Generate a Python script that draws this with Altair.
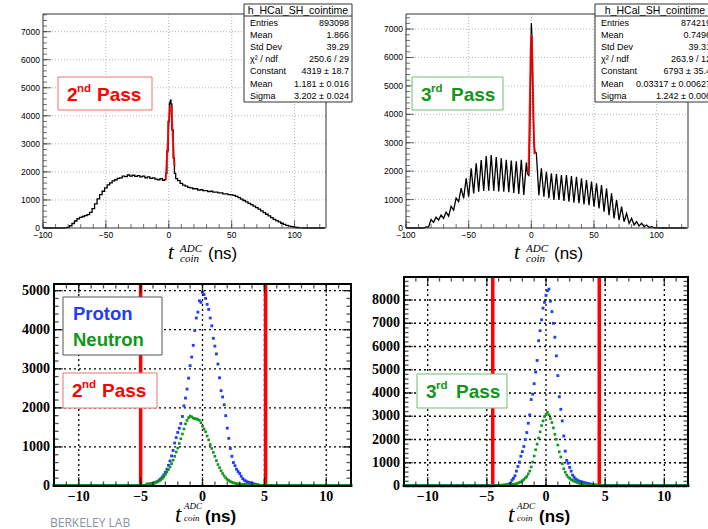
import altair as alt
import pandas as pd

FONT = "Liberation Sans"
NARROW = "Liberation Sans Narrow"
SERIF = "Liberation Serif"
RED = "#ff0000"
GREEN = "#10961a"
BLUE = "#1e3cff"

# ---------------- HCal - SH coincidence time, 2nd pass ----------------
# counts in 2 ns bins for t = -100 .. -4
P2_LO_COUNTS = [0, 0, 0, 0, 0, 0, 0, 0, 0,
                5, 25, 80, 160, 250, 330, 380, 410, 440, 480, 560, 690, 860,
                1040, 1190, 1310, 1430, 1540, 1610, 1680, 1720, 1770, 1790,
                1850, 1830, 1890, 1850, 1880, 1840, 1870, 1820, 1850, 1790,
                1820, 1770, 1790, 1740, 1720, 1760, 1700]
# coincidence peak, finer sampling
P2_PEAK_T = [-3, -2, -1, 0, 1, 1.5, 2, 3, 4, 5, 6]
P2_PEAK_COUNTS = [1720, 1950, 2750, 3800, 4450, 4560, 4420, 3500, 2500, 1950, 1760]
# counts in 2 ns bins for t = 8 .. 124
P2_HI_COUNTS = [1690, 1590, 1530, 1490, 1450, 1430, 1400, 1400, 1350, 1370,
                1330, 1330, 1300, 1310, 1280, 1280, 1250, 1250, 1220, 1220,
                1190, 1180, 1160, 1130, 1080, 1030, 980, 930, 880, 830,
                780, 730, 670, 610, 550, 490, 430, 370, 310, 260,
                215, 170, 130, 95, 70, 50, 30, 18, 8, 3,
                0, 0, 0, 0, 0, 0, 0, 0, 0]
# gaussian fit curve over the peak
P2_FIT_T = [-2.5, -2, -1, 0, 1, 1.5, 2, 3, 4, 4.5]
P2_FIT_COUNTS = [1720, 2050, 2850, 3750, 4300, 4350, 4250, 3450, 2550, 2200]

# ---------------- HCal - SH coincidence time, 3rd pass ----------------
# beam-bunch maxima (t = -100 .. -4, every 4 ns) and minima (t = -98 .. -6)
P3_BUNCH_LO = [0, 0, 0, 0, 40, 300, 380, 460, 560, 760, 1050, 1400, 1750,
               2100, 2280, 2390, 2530, 2570, 2500, 2450, 2400, 2370, 2350,
               2400, 2300]
P3_GAP_LO = [0, 0, 0, 0, 30, 200, 280, 340, 420, 630, 930, 1045, 1100,
             1220, 1280, 1300, 1310, 1300, 1290, 1280, 1260, 1230, 1200, 1160]
# central coincidence peak
P3_CORE_T = [-3, -2, -1.5, -1, -0.5, 0, 0.5, 1, 1.5, 2, 3]
P3_CORE_COUNTS = [1900, 1850, 2600, 3900, 5800, 7200, 6700, 5000, 4200, 3000, 2650]
# beam-bunch maxima (t = 4 .. 124) and minima (t = 6 .. 122)
P3_BUNCH_HI = [2640, 2100, 1980, 1920, 1900, 1865, 1860, 1830, 1800, 1750,
               1690, 1630, 1570, 1510, 1395, 1220, 985, 750, 515, 340,
               220, 165, 105, 45, 10, 0, 0, 0, 0, 0, 0]
P3_GAP_HI = [1150, 1100, 1045, 985, 985, 950, 925, 890, 870, 830,
             800, 750, 690, 575, 455, 340, 280, 220, 165, 105,
             70, 45, 20, 5, 0, 0, 0, 0, 0, 0]
P3_FIT_T = [-2.5, -2, -1.5, -1, -0.5, 0, 0.5, 1, 1.5, 2, 2.5]
P3_FIT_COUNTS = [1900, 2500, 3700, 5000, 6200, 6800, 6500, 5600, 4400, 3300, 2600]

# ---------------- selected proton / neutron events ----------------
# 0.125 ns bins from t = -4.5 to 4.5
SEL_T0, SEL_DT = -4.5, 0.125
P2_PROTON = [25, 30, 40, 50, 65, 80, 100, 120, 150, 185, 230, 285, 350, 430,
             530, 640, 770, 910, 1100, 1240, 1370, 1480, 1600, 1780, 2050,
             2250, 2480, 2760, 3080, 3300, 3600, 3980, 4300, 4450, 4740, 4700,
             4960, 4900, 4800, 4650, 4520, 4300, 4100, 3780, 3580, 3380, 3120,
             2770, 2440, 2280, 2080, 1800, 1480, 1220, 960, 760, 600, 520, 430,
             370, 320, 250, 190, 150, 125, 105, 90, 80, 70, 55, 45, 35, 28]
P2_NEUTRON = [50, 55, 60, 65, 75, 85, 95, 110, 130, 160, 190, 235, 295, 360,
              420, 490, 570, 660, 760, 870, 970, 1090, 1210, 1330, 1460, 1590,
              1680, 1750, 1790, 1770, 1740, 1720, 1720, 1700, 1680, 1620, 1530,
              1460, 1390, 1280, 1180, 1060, 960, 860, 760, 650, 550, 470, 390,
              320, 260, 210, 170, 140, 115, 95, 80, 70, 60, 55, 50, 45, 42, 40,
              38, 36, 34, 32, 30, 28, 27, 26, 25]
P3_PROTON = [15, 15, 20, 20, 25, 25, 30, 35, 40, 50, 60, 80, 120, 250, 330,
             440, 640, 840, 1030, 1280, 1480, 1700, 2000, 2300, 2700, 3060,
             3720, 3950, 4400, 4900, 5400, 6250, 6680, 7150, 7650, 7900, 8200,
             8400, 8470, 7950, 7500, 7000, 6400, 5600, 4750, 3840, 3300, 2800,
             2150, 1500, 1100, 980, 800, 640, 470, 380, 300, 260, 220, 195,
             175, 160, 140, 125, 110, 95, 80, 65, 55, 45, 35, 30, 25]
P3_NEUTRON = [10, 12, 14, 16, 18, 20, 22, 24, 26, 30, 35, 40, 50, 60, 70, 80,
              100, 125, 150, 180, 230, 280, 340, 410, 520, 640, 820, 1030,
              1290, 1560, 1800, 2060, 2330, 2600, 2800, 2990, 3080, 3170, 3060,
              2900, 2730, 2500, 2220, 2010, 1760, 1470, 1250, 960, 740, 590,
              470, 390, 330, 280, 240, 210, 180, 155, 130, 110, 95, 80, 65, 55,
              45, 40, 35, 30, 25, 22, 20, 18, 15]
# flat background far from the peak (0.125 ns bins)
TAIL = [12, 10, 14, 11, 9, 13, 12, 10, 11, 15, 9, 12, 14, 10, 11, 13, 12, 9,
        10, 14, 12, 11, 13, 10, 12, 9, 11, 14, 12, 10, 13, 11, 12, 10, 9, 14,
        11, 12, 13, 10, 12, 11, 9, 13, 12, 10, 14, 11, 12, 10, 13, 12, 11, 9,
        14, 12, 10, 11, 13, 12]
P2_CUTS = [-5.0, 5.1]
P3_CUTS = [-4.5, 4.5]

ONE = pd.DataFrame({"k": [0]})


def minus(v):
    s = f"{v:g}"
    return s.replace("-", "\u2212")


# ---------------- data tables ----------------
p2_t = list(range(-100, -3, 2)) + P2_PEAK_T + list(range(8, 125, 2))
p2_n = P2_LO_COUNTS + P2_PEAK_COUNTS + P2_HI_COUNTS
p2_hist = pd.DataFrame({"t": p2_t[:len(p2_n)], "n": p2_n[:len(p2_t)]})
p2_fit = pd.DataFrame({"t": P2_FIT_T, "n": P2_FIT_COUNTS})

p3_pts = []
p3_pts += list(zip(range(-100, -3, 4), P3_BUNCH_LO))
p3_pts += list(zip(range(-98, -5, 4), P3_GAP_LO))
p3_pts += list(zip(P3_CORE_T, P3_CORE_COUNTS))
p3_pts += list(zip(range(4, 125, 4), P3_BUNCH_HI))
p3_pts += list(zip(range(6, 123, 4), P3_GAP_HI))
p3_hist = pd.DataFrame(sorted(p3_pts), columns=["t", "n"])
p3_fit = pd.DataFrame({"t": P3_FIT_T, "n": P3_FIT_COUNTS})


def selection_table(core):
    t = [-12 + SEL_DT * i for i in range(len(TAIL))]
    n = list(reversed(TAIL))
    t += [SEL_T0 + SEL_DT * i for i in range(len(core))]
    n += core
    t += [4.625 + SEL_DT * i for i in range(len(TAIL))]
    n += TAIL
    return pd.DataFrame({"t": t, "n": n})


# ---------------- panel frame, grid, ticks, labels ----------------
def frame_layers(xs, ys, xdom, ydom, xmaj, xmin_, ymaj, ymin_, st):
    X = lambda f: alt.X(f, type="quantitative", scale=xs, axis=None)
    Y = lambda f: alt.Y(f, type="quantitative", scale=ys, axis=None)
    x0, x1 = xdom
    y0, y1 = ydom
    out = []
    gx = pd.DataFrame({"v": [v for v in xmaj if x0 < v < x1]})
    gx["a"], gx["b"] = y0, y1
    gy = pd.DataFrame({"v": [v for v in ymaj if y0 < v < y1]})
    gy["a"], gy["b"] = x0, x1
    out.append(alt.Chart(gx).mark_rule(color=st["grid"], strokeDash=st["dash"],
                                       strokeWidth=st["gw"]).encode(
        x=X("v"), y=Y("a"), y2="b"))
    out.append(alt.Chart(gy).mark_rule(color=st["grid"], strokeDash=st["dash"],
                                       strokeWidth=st["gw"]).encode(
        y=Y("v"), x=X("a"), x2="b"))
    return out


def axis_layers(xs, ys, xdom, ydom, xmaj, xmin_, ymaj, ymin_, st):
    X = lambda f: alt.X(f, type="quantitative", scale=xs, axis=None)
    Y = lambda f: alt.Y(f, type="quantitative", scale=ys, axis=None)
    x0, x1 = xdom
    y0, y1 = ydom
    out = []
    box = pd.DataFrame({"a": [x0], "b": [x1], "c": [y0], "d": [y1]})
    out.append(alt.Chart(box).mark_rect(fillOpacity=0, stroke=st["frame"],
                                        strokeWidth=st["fw"]).encode(
        x=X("a"), x2="b", y=Y("c"), y2="d"))
    sides = st["sides"]
    for vals, ln in ((xmaj, st["tl"]), (xmin_, st["tl"] / 2)):
        d = pd.DataFrame({"v": vals})
        d["lo"], d["hi"] = y0, y1
        out.append(alt.Chart(d).mark_tick(orient="vertical", size=ln, thickness=st["tw"],
                                          yOffset=-ln / 2, color=st["frame"]).encode(
            x=X("v"), y=Y("lo")))
        if "top" in sides:
            out.append(alt.Chart(d).mark_tick(orient="vertical", size=ln, thickness=st["tw"],
                                              yOffset=ln / 2, color=st["frame"]).encode(
                x=X("v"), y=Y("hi")))
    for vals, ln in ((ymaj, st["tl"]), (ymin_, st["tl"] / 2)):
        d = pd.DataFrame({"v": vals})
        d["lo"], d["hi"] = x0, x1
        out.append(alt.Chart(d).mark_tick(orient="horizontal", size=ln, thickness=st["tw"],
                                          xOffset=ln / 2, color=st["frame"]).encode(
            y=Y("v"), x=X("lo")))
        if "right" in sides:
            out.append(alt.Chart(d).mark_tick(orient="horizontal", size=ln, thickness=st["tw"],
                                              xOffset=-ln / 2, color=st["frame"]).encode(
                y=Y("v"), x=X("hi")))
    lx = pd.DataFrame({"v": xmaj, "s": [minus(v) for v in xmaj]})
    lx["p"] = y0
    out.append(alt.Chart(lx).mark_text(baseline="top", dy=st["ldy"], font=st["lfont"],
                                       fontSize=st["lsize"], fontWeight=st["lweight"],
                                       color="black").encode(
        x=X("v"), y=Y("p"), text="s:N"))
    ly = pd.DataFrame({"v": ymaj, "s": [minus(v) for v in ymaj]})
    ly["p"] = x0
    out.append(alt.Chart(ly).mark_text(align="right", baseline="middle", dx=-st["ldx"],
                                       font=st["lfont"], fontSize=st["lsize"],
                                       fontWeight=st["lweight"], color="black").encode(
        y=Y("v"), x=X("p"), text="s:N"))
    return out


TOP_STYLE = dict(grid="#b4b4b4", dash=[1, 2], gw=1, frame="#333333", fw=1, tw=1,
                 tl=8, sides=(), ldy=3, ldx=3, lfont=FONT, lsize=8.5, lweight="normal")
BOT_STYLE = dict(grid="#000000", dash=[2, 3], gw=1.3, frame="#000000", fw=2, tw=1.3,
                 tl=9, sides=("top", "right"), ldy=4, ldx=4, lfont=NARROW, lsize=14,
                 lweight="bold")


def hist_panel(xdom, xr, ydom, yr, hist, fit, interp, width, yticks):
    xs = alt.Scale(domain=xdom, range=xr, nice=False, zero=False)
    ys = alt.Scale(domain=ydom, range=yr, nice=False, zero=False)
    xmaj = [-100, -50, 0, 50, 100]
    xmin_ = list(range(-100, 125, 10))
    ymaj = yticks
    ymin_ = list(range(0, int(ydom[1]) + 1, 200))
    X = alt.X("t:Q", scale=xs, axis=None)
    Y = alt.Y("n:Q", scale=ys, axis=None)
    layers = frame_layers(xs, ys, xdom, ydom, xmaj, xmin_, ymaj, ymin_, TOP_STYLE)
    layers.append(alt.Chart(hist).mark_line(color="black", strokeWidth=width,
                                            interpolate=interp).encode(x=X, y=Y))
    layers.append(alt.Chart(fit).mark_line(color=RED, strokeWidth=2, opacity=0.85,
                                           interpolate="monotone").encode(x=X, y=Y))
    layers += axis_layers(xs, ys, xdom, ydom, xmaj, xmin_, ymaj, ymin_, TOP_STYLE)
    return alt.layer(*layers)


def selection_panel(xr, ydom, yr, proton, neutron, cuts, yticks):
    xdom = [-12, 12]
    xs = alt.Scale(domain=xdom, range=xr, nice=False, zero=False)
    ys = alt.Scale(domain=ydom, range=yr, nice=False, zero=False)
    xmaj = [-10, -5, 0, 5, 10]
    xmin_ = list(range(-12, 13))
    ymin_ = list(range(0, int(ydom[1]) + 1, 200))
    X = alt.X("t:Q", scale=xs, axis=None)
    Y = alt.Y("n:Q", scale=ys, axis=None)
    layers = frame_layers(xs, ys, xdom, ydom, xmaj, xmin_, yticks, ymin_, BOT_STYLE)
    cut_df = pd.DataFrame({"t": cuts})
    cut_df["a"], cut_df["b"] = ydom
    layers.append(alt.Chart(cut_df).mark_rule(color=RED, strokeWidth=3.5).encode(
        x=X, y=alt.Y("a:Q", scale=ys, axis=None), y2="b"))
    layers.append(alt.Chart(proton).mark_square(size=8, color=BLUE, opacity=1).encode(x=X, y=Y))
    layers.append(alt.Chart(neutron).mark_square(size=7, color=GREEN, opacity=1).encode(x=X, y=Y))
    layers += axis_layers(xs, ys, xdom, ydom, xmaj, xmin_, yticks, ymin_, BOT_STYLE)
    return alt.layer(*layers)


top_left = hist_panel([-100, 125], [43, 326], [0, 7630], [228, 14], p2_hist, p2_fit,
                      "step", 1.3, list(range(0, 7001, 1000)))
top_right = hist_panel([-100, 125], [406, 688], [0, 7530], [228, 14], p3_hist, p3_fit,
                       "linear", 1.3, list(range(0, 7001, 1000)))
bot_left = selection_panel([54, 351], [0, 5170], [486, 284], selection_table(P2_PROTON),
                           selection_table(P2_NEUTRON), P2_CUTS, list(range(0, 5001, 1000)))
bot_right = selection_panel([404, 688], [0, 8990], [486, 277], selection_table(P3_PROTON),
                            selection_table(P3_NEUTRON), P3_CUTS, list(range(0, 8001, 1000)))


# ---------------- text boxes ----------------
def rect(x, x2, y, y2, stroke, sw=1, fill="white"):
    return alt.Chart(ONE).mark_rect(fill=fill, stroke=stroke, strokeWidth=sw).encode(
        x=alt.value(x), x2=alt.value(x2), y=alt.value(y), y2=alt.value(y2))


def text(s, x, y, size, color="black", weight="normal", font=FONT, align="left",
         style="normal", baseline="alphabetic"):
    return alt.Chart(ONE).mark_text(align=align, baseline=baseline, font=font,
                                    fontSize=size, fontWeight=weight, fontStyle=style,
                                    color=color).encode(
        x=alt.value(x), y=alt.value(y), text=alt.value(s))


def line(x, x2, y, color):
    return alt.Chart(ONE).mark_rule(color=color, strokeWidth=1).encode(
        x=alt.value(x), x2=alt.value(x2), y=alt.value(y))


STAT_LABELS = ["Entries", "Mean", "Std Dev", "\u03c7\u00b2 / ndf", "Constant", "Mean", "Sigma"]
P2_STATS = ["893098", "1.866", "39.29", "250.6 / 29", "4319 \u00b1 18.7",
            "1.181 \u00b1 0.016", "3.202 \u00b1 0.024"]
P3_STATS = ["874219", "0.7496", "39.31", "263.9 / 12", "6793 \u00b1 35.4",
            "0.03317 \u00b1 0.00627", "1.242 \u00b1 0.006"]


def stats_box(x0, x1, xr, values):
    out = [rect(x0, x1, 4, 102, "#333333")]
    out.append(text("h_HCal_SH_cointime", (x0 + x1) / 2 if x1 < 708 else 655, 13.5, 10.5,
                    align="center"))
    out.append(line(x0, x1, 16, "#333333"))
    df = pd.DataFrame({"lab": STAT_LABELS, "val": values,
                       "y": [23 + 12.1 * i for i in range(len(values))]})
    out.append(alt.Chart(df).mark_text(align="left", baseline="middle", font=FONT,
                                       fontSize=9, color="black").encode(
        x=alt.value(x0 + 6), y=alt.Y("y:Q", scale=None), text="lab:N"))
    out.append(alt.Chart(df).mark_text(align="right", baseline="middle", font=FONT,
                                       fontSize=9, color="black").encode(
        x=alt.value(xr), y=alt.Y("y:Q", scale=None), text="val:N"))
    return out


def pass_box(x0, x1, y0, y1, num, sup, color, edge):
    base = y0 + 24
    return [rect(x0, x1, y0, y1, edge),
            text(num, x0 + 9, base, 19, color, "bold"),
            text(sup, x0 + 19, base - 9, 11.5, color, "bold"),
            text("Pass", x0 + 39, base, 19, color, "bold")]


def coin_title(x, y, big=21, small=11, ns_font=FONT, ns_size=17, ns_weight="normal",
               sub_dy=11, sup_dy=-7, gap=12, ns_gap=40):
    return [text("t", x, y, big, font=SERIF, style="italic"),
            text("ADC", x + gap, y + sup_dy, small, font=SERIF, style="italic"),
            text("coin", x + gap, y + sub_dy - 8, small, font=SERIF, style="italic"),
            text("(ns)", x + ns_gap, y, ns_size, font=ns_font, weight=ns_weight)]


overlays = []
overlays += stats_box(244, 352, 349, P2_STATS)
overlays += stats_box(595, 760, 711, P3_STATS)
overlays += pass_box(58, 152, 77, 110, "2", "nd", RED, "#f07070")
overlays += pass_box(412, 503, 77, 110, "3", "rd", GREEN, "#70c070")
overlays += [rect(63, 162, 297, 355, "#555555"),
             text("Proton", 73, 320, 18.5, BLUE, "bold"),
             text("Neutron", 73, 346, 18.5, GREEN, "bold")]
overlays += pass_box(63, 157, 373, 408, "2", "nd", RED, "#f07070")
overlays += pass_box(417, 507, 374, 408, "3", "rd", GREEN, "#70c070")
overlays += coin_title(168, 259)
overlays += coin_title(514, 259)
overlays += coin_title(175, 522, big=23, small=9, ns_font=FONT, ns_size=17,
                       ns_weight="bold", sub_dy=7, sup_dy=-13, gap=9, ns_gap=30)
overlays += coin_title(508, 522, big=23, small=9, ns_font=FONT, ns_size=17,
                       ns_weight="bold", sub_dy=7, sup_dy=-13, gap=9, ns_gap=31)
overlays.append(text("BERKELEY LAB", 50, 527, 12, "#8a929c", font="Open Sans"))

chart = alt.layer(top_left, top_right, bot_left, bot_right, *overlays).resolve_scale(
    x="independent", y="independent"
).properties(
    width=708, height=529, padding=0,
    autosize=alt.AutoSizeParams(type="none"),
    background="white",
).configure_view(stroke=None)

chart.save("out.html", embed_options={"renderer": "svg", "actions": False})
